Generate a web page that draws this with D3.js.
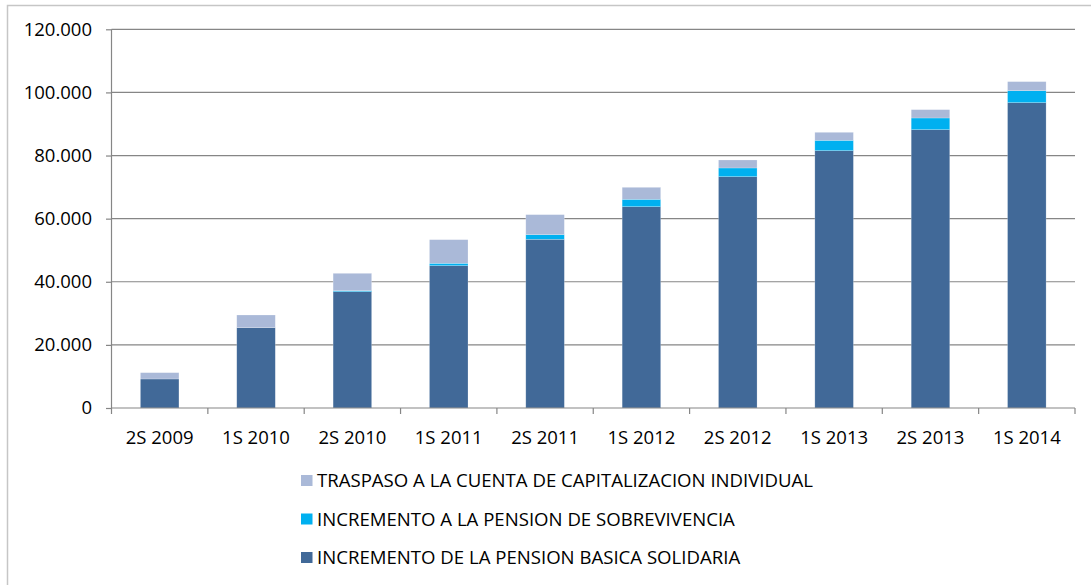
<!DOCTYPE html>
<html>
<head>
<meta charset="utf-8">
<script src="https://cdn.jsdelivr.net/npm/d3@7"></script>
<style>
  body { margin: 0; background: #fff; }
  svg text { font-family: "Open Sans", sans-serif; fill: #000; }
</style>
</head>
<body>
<div id="chart"></div>
<script>
var periods = ["2S 2009", "1S 2010", "2S 2010", "1S 2011", "2S 2011",
               "1S 2012", "2S 2012", "1S 2013", "2S 2013", "1S 2014"];
var basica      = [9200, 25450, 36870, 45100, 53450, 63800, 73310, 81550, 88210, 96760];
var sobrevive   = [0, 0, 300, 750, 1480, 2330, 2750, 3270, 3690, 3800];
var traspaso    = [2000, 4020, 5510, 7490, 6340, 3800, 2530, 2540, 2640, 2860];
var yTicks      = [0, 20000, 40000, 60000, 80000, 100000, 120000];
var seriesNames = ["INCREMENTO DE LA PENSION BASICA SOLIDARIA",
                   "INCREMENTO A LA PENSION DE SOBREVIVENCIA",
                   "TRASPASO A LA CUENTA DE CAPITALIZACION INDIVIDUAL"];
var seriesColors = ["#416998", "#00b0f0", "#aab9d8"];

var width = 1091, height = 585;
var plot = {left: 111.5, right: 1075, top: 29.3, bottom: 408};

var svg = d3.select("#chart").append("svg")
    .attr("width", width)
    .attr("height", height);

/* chart border, runs off the right and bottom edges */
svg.append("rect")
    .attr("x", 7.5).attr("y", 5.5)
    .attr("width", 1100).attr("height", 600)
    .attr("fill", "none")
    .attr("stroke", "#c6c6c6")
    .attr("stroke-width", 1.5);

/* scales */
var x = d3.scaleBand()
    .domain(periods)
    .range([plot.left, plot.right])
    .paddingInner(0.6)
    .paddingOuter(0.3);
var y = d3.scaleLinear()
    .domain([0, 120000])
    .range([plot.bottom, plot.top]);

var fmt = function(d){ return d3.format(",")(d).replace(/,/g, "."); };

/* gridlines */
svg.append("g").selectAll("line")
    .data(yTicks.slice(1))
    .enter().append("line")
        .attr("x1", plot.left).attr("x2", plot.right)
        .attr("y1", function(d){ return y(d); })
        .attr("y2", function(d){ return y(d); })
        .attr("stroke", "#868686")
        .attr("stroke-width", 1.2);

/* stacked data */
var rows = periods.map(function(p, i){
    return {period: p, s0: basica[i], s1: sobrevive[i], s2: traspaso[i]};
});
var stack = d3.stack().keys(["s0", "s1", "s2"]);
var layers = stack(rows);

svg.append("g").selectAll("g")
    .data(layers)
    .enter().append("g")
        .attr("fill", function(d, i){ return seriesColors[i]; })
    .selectAll("rect")
    .data(function(d){ return d; })
    .enter().append("rect")
        .attr("x", function(d){ return x(d.data.period); })
        .attr("width", x.bandwidth())
        .attr("y", function(d){ return y(d[1]); })
        .attr("height", function(d){ return y(d[0]) - y(d[1]); })
        .attr("stroke", "rgba(255,255,255,0.35)")
        .attr("stroke-width", 0.6);

/* y axis */
var yAxis = d3.axisLeft(y)
    .tickValues(yTicks)
    .tickFormat(fmt)
    .tickSize(5.5)
    .tickPadding(14);
var gy = svg.append("g")
    .attr("transform", "translate(" + plot.left + ",0)")
    .call(yAxis);
gy.selectAll("line, path").attr("stroke", "#868686").attr("stroke-width", 1.2);
gy.select(".domain").attr("d", "M0," + plot.bottom + "V" + plot.top);
gy.selectAll("text")
    .style("font-family", "'Open Sans', sans-serif")
    .style("font-size", "18.5px")
    .style("fill", "#000");

/* x axis: ticks between categories */
var step = x.step();
var bounds = d3.range(periods.length + 1).map(function(i){ return plot.left + i * step; });
var gx = svg.append("g");
gx.append("line")
    .attr("x1", plot.left).attr("x2", plot.right)
    .attr("y1", plot.bottom).attr("y2", plot.bottom)
    .attr("stroke", "#868686").attr("stroke-width", 1.2);
gx.selectAll(".tick")
    .data(bounds)
    .enter().append("line")
        .attr("x1", function(d){ return d; }).attr("x2", function(d){ return d; })
        .attr("y1", plot.bottom).attr("y2", plot.bottom + 6)
        .attr("stroke", "#868686").attr("stroke-width", 1.2);
gx.selectAll("text")
    .data(periods)
    .enter().append("text")
        .attr("x", function(d){ return x(d) + x.bandwidth() / 2; })
        .attr("y", 444)
        .attr("text-anchor", "middle")
        .style("font-size", "18.5px")
        .text(function(d){ return d; });

/* legend, top entry is the top of the stack */
var legendRows = [2, 1, 0];
var legend = svg.append("g").selectAll("g")
    .data(legendRows)
    .enter().append("g")
        .attr("transform", function(d, i){ return "translate(301," + (480.5 + i * 38.5) + ")"; });
legend.append("rect")
    .attr("x", 0).attr("y", -5.5)
    .attr("width", 11.5).attr("height", 11)
    .attr("fill", function(d){ return seriesColors[d]; });
legend.append("text")
    .attr("x", 16)
    .attr("y", 6.8)
    .style("font-size", "18.6px")
    .text(function(d){ return seriesNames[d]; });
</script>
</body>
</html>
